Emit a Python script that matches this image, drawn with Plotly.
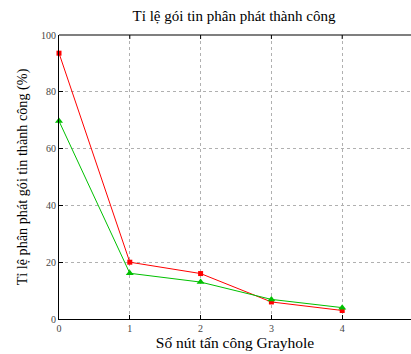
import plotly.graph_objects as go

x_vals = [0, 1, 2, 3, 4]
red_vals = [93.6, 20.0, 16.0, 6.0, 3.0]
green_vals = [69.7, 16.1, 13.0, 6.9, 4.0]
x_ticks = [0, 1, 2, 3, 4]
y_ticks = [0, 20, 40, 60, 80, 100]

FONT = "Liberation Serif"
L, R, T, B = 59, 0, 35, 35
W, H = 411, 354
x_right = 5 * (W - L) / (413 - L)

fig = go.Figure()
fig.add_trace(go.Scatter(x=x_vals, y=red_vals, mode="lines+markers",
                         line=dict(color="#ff0000", width=1),
                         marker=dict(symbol="square", size=5, color="#ff0000"),
                         cliponaxis=False, showlegend=False))
fig.add_trace(go.Scatter(x=x_vals, y=green_vals, mode="lines+markers",
                         line=dict(color="#00c000", width=1),
                         marker=dict(symbol="triangle-up", size=7, color="#00c000"),
                         cliponaxis=False, showlegend=False))

fig.update_layout(
    width=W, height=H,
    margin=dict(l=L, r=R, t=T, b=B),
    paper_bgcolor="white", plot_bgcolor="white",
    font=dict(family=FONT, color="#000"),
    title=dict(text="Tỉ lệ gói tin phân phát thành công", x=(L + (W - L) / 2 - 1) / W,
               xanchor="center", y=1 - 16 / H, yanchor="middle",
               font=dict(size=15, family=FONT, color="#000")),
    xaxis=dict(range=[0, x_right], tickvals=x_ticks, ticktext=[str(v) for v in x_ticks],
               showgrid=True, gridcolor="#b0b0b0", griddash="dot", gridwidth=1,
               showline=True, linecolor="#000", linewidth=1,
               ticks="inside", ticklen=4, tickcolor="#000",
               tickfont=dict(size=10, color="#444", family=FONT),
               zeroline=False,
               title=dict(text="Số nút tấn công Grayhole", standoff=3,
                          font=dict(size=15.5, family=FONT, color="#000"))),
    yaxis=dict(range=[0, 100], tickvals=y_ticks,
               showgrid=True, gridcolor="#b0b0b0", griddash="dot", gridwidth=1,
               showline=True, linecolor="#000", linewidth=1,
               ticks="inside", ticklen=4, tickcolor="#000",
               tickfont=dict(size=10, color="#444", family=FONT),
               zeroline=False,
               title=dict(text="Tỉ lệ phân phát gói tin thành công (%)", standoff=10,
                          font=dict(size=14.2, family=FONT, color="#000"))),
)

# top border line and ticks
fig.add_shape(type="line", xref="paper", yref="paper", x0=0, x1=1, y0=1, y1=1,
              line=dict(color="#555555", width=1.5))
for v in x_ticks[1:]:
    fig.add_shape(type="line", xref="x", yref="paper", x0=v, x1=v, y0=1, y1=1 - 4 / (H - T - B),
                  line=dict(color="#000", width=1))

# partially visible "5" tick label at the right edge
fig.add_annotation(text="5", x=5 / x_right, y=0, xref="paper", yref="paper", yshift=-10,
                   showarrow=False, yanchor="middle", xanchor="center",
                   font=dict(size=10, color="#444", family=FONT))

fig.write_html("out.html")
